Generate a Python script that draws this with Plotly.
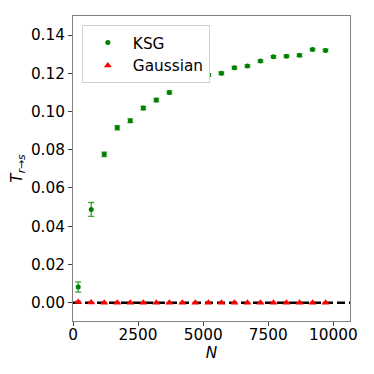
import numpy as np
import plotly.graph_objects as go

# Sample sizes
n_values = [200, 700, 1200, 1700, 2200, 2700, 3200, 3700, 4200, 4700,
            5200, 5700, 6200, 6700, 7200, 7700, 8200, 8700, 9200, 9700]

# KSG estimates and errors
ksg_mean = [0.0082, 0.0488, 0.0776, 0.0915, 0.0952, 0.1018, 0.1060, 0.1100,
            0.1163, 0.1170, 0.1191, 0.1200, 0.1229, 0.1238, 0.1264, 0.1287,
            0.1290, 0.1294, 0.1325, 0.1320]
ksg_err = [0.0027, 0.0036, 0.0012, 0.0011, 0.0010, 0.0009, 0.0009, 0.0008,
           0.0008, 0.0007, 0.0007, 0.0007, 0.0007, 0.0006, 0.0006, 0.0006,
           0.0006, 0.0006, 0.0006, 0.0006]

# Gaussian estimates and errors
gauss_mean = [0.0004, 0.0001, 0.0000, 0.0000, 0.0000, 0.0000, 0.0000, 0.0000,
              0.0000, 0.0000, 0.0000, 0.0000, 0.0000, 0.0000, 0.0000, 0.0000,
              0.0000, 0.0000, 0.0000, 0.0000]
gauss_err = [0.0003, 0.0002, 0.0002, 0.0001, 0.0001, 0.0001, 0.0001, 0.0001,
             0.0001, 0.0001, 0.0001, 0.0001, 0.0001, 0.0001, 0.0001, 0.0001,
             0.0001, 0.0001, 0.0001, 0.0001]

x_ticks = [0, 2500, 5000, 7500, 10000]
y_ticks = [0.00, 0.02, 0.04, 0.06, 0.08, 0.10, 0.12, 0.14]

font = dict(family="DejaVu Sans", size=15.3, color="black")

fig = go.Figure()

fig.add_trace(go.Scatter(x=n_values, y=ksg_mean, mode='markers', name="KSG",
                         marker=dict(symbol='circle', size=5, color='green'),
                         error_y=dict(type='data', array=ksg_err, visible=True,
                                      color='rgba(0,128,0,0.75)', thickness=1.3, width=3)))

fig.add_trace(go.Scatter(x=n_values, y=gauss_mean, mode='markers', name="Gaussian",
                         marker=dict(symbol='triangle-up', size=7, color='red'),
                         error_y=dict(type='data', array=gauss_err, visible=True,
                                      color='rgba(255,0,0,0.75)', thickness=1.3, width=3)))

# Zero reference line
fig.add_shape(type='line', xref='paper', x0=0, x1=1, yref='y', y0=0, y1=0,
              line=dict(color='black', width=2.5, dash='8px,4px'), layer='below')

axis_style = dict(showline=True, linecolor='#808080', linewidth=1, mirror=True,
                  ticks='outside', ticklen=4, tickcolor='#404040', showgrid=False,
                  zeroline=False, tickfont=font, automargin=False)

# page body adds an 8px offset, so the figure is 366 px and margins are shifted
fig.update_layout(width=366, height=366,
                  margin=dict(l=65, r=24, t=8, b=53),
                  plot_bgcolor='white', paper_bgcolor='white',
                  font=font,
                  xaxis=dict(range=[0, 10640], tickvals=x_ticks, tickformat="d",
                             title=dict(text="<i>N</i>", font=font, standoff=0),
                             ticklabelstandoff=-4,
                             **axis_style),
                  yaxis=dict(range=[-0.0096, 0.15], tickvals=y_ticks, tickformat=".2f",
                             title=dict(text="<i>T</i><sub><i>r</i>→<i>s</i></sub>",
                                        font=font, standoff=4),
                             **axis_style),
                  legend=dict(x=0.032, y=0.97, xanchor='left', yanchor='top',
                              bgcolor='white', bordercolor='#d0d0d0', borderwidth=1,
                              font=font, itemwidth=40, tracegroupgap=2))

fig.write_html("out.html")
